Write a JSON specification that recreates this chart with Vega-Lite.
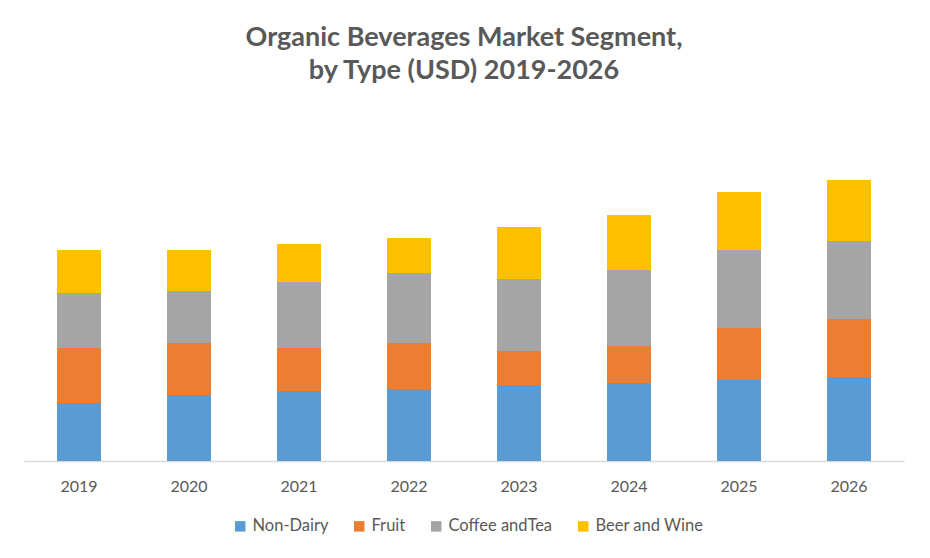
{
  "$schema": "https://vega.github.io/schema/vega-lite/v6.json",
  "width": 880,
  "height": 361,
  "autosize": {"type": "none"},
  "padding": {"left": 24, "top": 100, "right": 26, "bottom": 97},
  "background": "white",
  "title": {
    "text": ["Organic Beverages Market Segment,", "by Type (USD) 2019-2026"],
    "font": "Lato",
    "fontSize": 27,
    "fontWeight": "bold",
    "color": "#595959",
    "anchor": "middle",
    "offset": 15,
    "lineHeight": 33
  },
  "data": {
    "values": [
      {"year": "2019", "type": "Non-Dairy", "value": 58},
      {"year": "2019", "type": "Fruit", "value": 55},
      {"year": "2019", "type": "Coffee andTea", "value": 55},
      {"year": "2019", "type": "Beer and Wine", "value": 43},
      {"year": "2020", "type": "Non-Dairy", "value": 66},
      {"year": "2020", "type": "Fruit", "value": 52},
      {"year": "2020", "type": "Coffee andTea", "value": 52},
      {"year": "2020", "type": "Beer and Wine", "value": 41},
      {"year": "2021", "type": "Non-Dairy", "value": 70},
      {"year": "2021", "type": "Fruit", "value": 43},
      {"year": "2021", "type": "Coffee andTea", "value": 66},
      {"year": "2021", "type": "Beer and Wine", "value": 38},
      {"year": "2022", "type": "Non-Dairy", "value": 72},
      {"year": "2022", "type": "Fruit", "value": 46},
      {"year": "2022", "type": "Coffee andTea", "value": 70},
      {"year": "2022", "type": "Beer and Wine", "value": 35},
      {"year": "2023", "type": "Non-Dairy", "value": 76},
      {"year": "2023", "type": "Fruit", "value": 34},
      {"year": "2023", "type": "Coffee andTea", "value": 72},
      {"year": "2023", "type": "Beer and Wine", "value": 52},
      {"year": "2024", "type": "Non-Dairy", "value": 78},
      {"year": "2024", "type": "Fruit", "value": 37},
      {"year": "2024", "type": "Coffee andTea", "value": 76},
      {"year": "2024", "type": "Beer and Wine", "value": 55},
      {"year": "2025", "type": "Non-Dairy", "value": 81},
      {"year": "2025", "type": "Fruit", "value": 52},
      {"year": "2025", "type": "Coffee andTea", "value": 78},
      {"year": "2025", "type": "Beer and Wine", "value": 58},
      {"year": "2026", "type": "Non-Dairy", "value": 84},
      {"year": "2026", "type": "Fruit", "value": 58},
      {"year": "2026", "type": "Coffee andTea", "value": 78},
      {"year": "2026", "type": "Beer and Wine", "value": 61}
    ]
  },
  "mark": {"type": "bar"},
  "encoding": {
    "x": {
      "field": "year",
      "type": "nominal",
      "scale": {"paddingInner": 0.6, "paddingOuter": 0.3},
      "axis": {
        "title": null,
        "labelAngle": 0,
        "labelFont": "Lato",
        "labelFontSize": 16,
        "labelColor": "#595959",
        "labelPadding": 17,
        "ticks": false,
        "domainColor": "#D9D9D9",
        "domainWidth": 1.5,
        "grid": false
      }
    },
    "y": {
      "field": "value",
      "type": "quantitative",
      "aggregate": "sum",
      "stack": "zero",
      "scale": {"domain": [0, 361], "nice": false},
      "axis": null
    },
    "color": {
      "field": "type",
      "type": "nominal",
      "sort": ["Non-Dairy", "Fruit", "Coffee andTea", "Beer and Wine"],
      "scale": {
        "domain": ["Non-Dairy", "Fruit", "Coffee andTea", "Beer and Wine"],
        "range": ["#5B9BD5", "#ED7D31", "#A5A5A5", "#FFC000"]
      },
      "legend": {
        "title": null,
        "orient": "none",
        "legendX": 208,
        "legendY": 418,
        "direction": "horizontal",
        "symbolType": "square",
        "symbolSize": 110,
        "symbolStrokeWidth": 0,
        "labelFont": "Lato",
        "labelFontSize": 16.5,
        "labelColor": "#595959",
        "columnPadding": 22
      }
    }
  },
  "config": {"view": {"stroke": null}}
}
